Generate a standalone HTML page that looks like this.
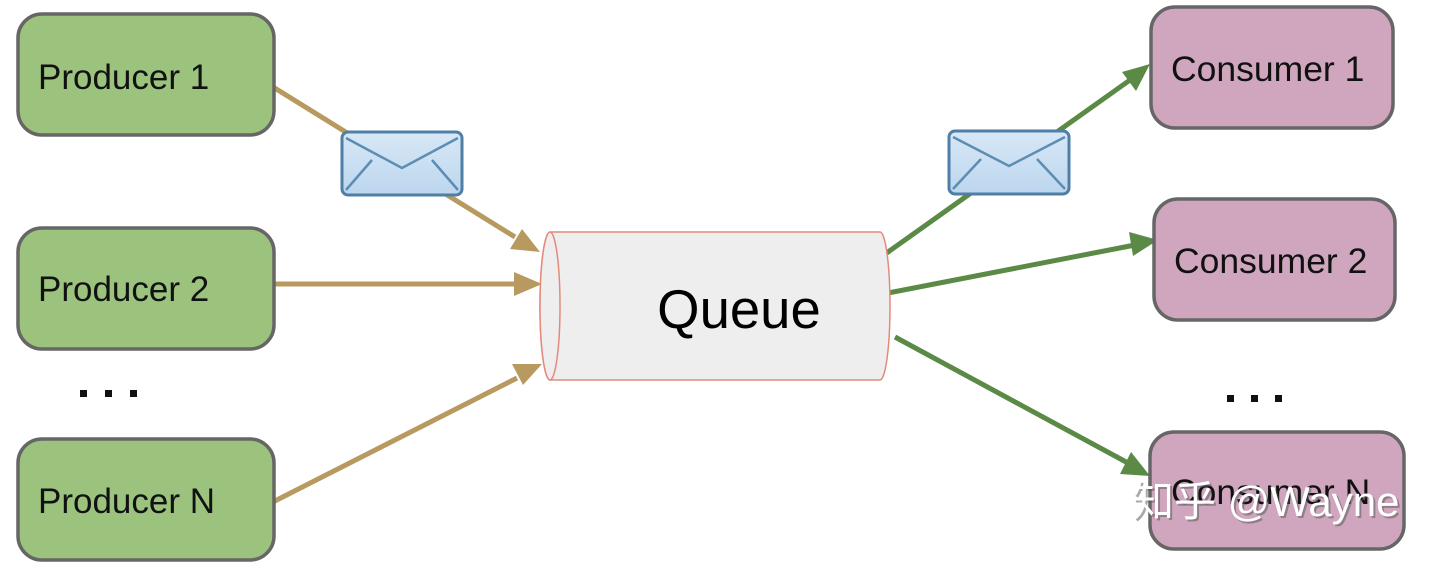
<!DOCTYPE html>
<html><head><meta charset="utf-8"><style>
html,body{margin:0;padding:0;background:#fff;width:1440px;height:571px;overflow:hidden}
svg{display:block}
text{font-family:"Liberation Sans","Noto Sans CJK SC",sans-serif}
</style></head><body>
<svg width="1440" height="571" viewBox="0 0 1440 571">
<defs>
<linearGradient id="env" x1="0" y1="0" x2="0" y2="1"><stop offset="0" stop-color="#d8e8f6"/><stop offset="1" stop-color="#bcd6ee"/></linearGradient>
</defs>
<g stroke="#b89a60" stroke-width="5" fill="none">
<line x1="265" y1="82" x2="515" y2="237"/>
<line x1="265" y1="284" x2="515" y2="284"/>
<line x1="265" y1="506" x2="517" y2="378"/>
</g>
<g fill="#b89a60">
<polygon points="540,252 510,249 522,229"/>
<polygon points="542,284 514,272 514,296"/>
<polygon points="542,364 523,385 512,364"/>
</g>
<g stroke="#5a8a46" stroke-width="5" fill="none">
<line x1="874" y1="262" x2="1130" y2="80"/>
<line x1="883" y1="294" x2="1135" y2="245"/>
<line x1="895" y1="337" x2="1128" y2="463"/>
</g>
<g fill="#5a8a46">
<polygon points="1150,64 1136,91 1122,72"/>
<polygon points="1158,240 1133,256 1129,232"/>
<polygon points="1150,476 1120,474 1131,452"/>
</g>
<g>
<rect x="342" y="132" width="120" height="63" rx="6" fill="url(#env)" stroke="#4f7fa6" stroke-width="3"/>
<path d="M346,138 L402,168 L458,138 M346,190 L372,160 M458,190 L432,160" stroke="#5d8db3" stroke-width="2.5" fill="none"/>
<rect x="949" y="131" width="120" height="63" rx="6" fill="url(#env)" stroke="#4f7fa6" stroke-width="3"/>
<path d="M953,137 L1009,166 L1065,137 M953,189 L981,159 M1065,189 L1037,159" stroke="#5d8db3" stroke-width="2.5" fill="none"/>
</g>
<path d="M550,232 L880,232 A10,74 0 0 1 880,380 L550,380 A10,74 0 0 1 550,232 Z" fill="#eeeeef" stroke="#e38a7a" stroke-width="1.5"/>
<ellipse cx="550" cy="306" rx="10" ry="74" fill="#eeeeef" stroke="#e38a7a" stroke-width="1.5"/>
<text x="739" y="328" font-size="54.5" text-anchor="middle" fill="#000">Queue</text>
<g fill="#9bc37d" stroke="#666" stroke-width="3.5">
<rect x="18" y="14" width="256" height="121" rx="24"/>
<rect x="18" y="228" width="256" height="121" rx="24"/>
<rect x="18" y="439" width="256" height="121" rx="24"/>
</g>
<g font-size="35" fill="#111">
<text x="38" y="89">Producer 1</text>
<text x="38" y="301">Producer 2</text>
<text x="38" y="513">Producer N</text>
</g>
<g fill="#cfa6bd" stroke="#666" stroke-width="3.5">
<rect x="1151" y="7" width="242" height="121" rx="24"/>
<rect x="1154" y="199" width="241" height="121" rx="24"/>
<rect x="1150" y="432" width="254" height="117" rx="24"/>
</g>
<g font-size="35.5" fill="#111">
<text x="1171" y="81">Consumer 1</text>
<text x="1174" y="273">Consumer 2</text>
<text x="1171" y="504">Consumer N</text>
</g>
<g fill="#111">
<rect x="80" y="390" width="7" height="7"/><rect x="105" y="390" width="7" height="7"/><rect x="130" y="390" width="7" height="7"/>
<rect x="1227" y="395" width="7" height="7"/><rect x="1251" y="395" width="7" height="7"/><rect x="1275" y="395" width="7" height="7"/>
</g>
<text x="1134" y="518" font-size="42" fill="#555" opacity="0.5">知乎 @Wayne</text>
<text x="1132" y="516" font-size="42" fill="#fff">知乎 @Wayne</text>
</svg>
</body></html>
